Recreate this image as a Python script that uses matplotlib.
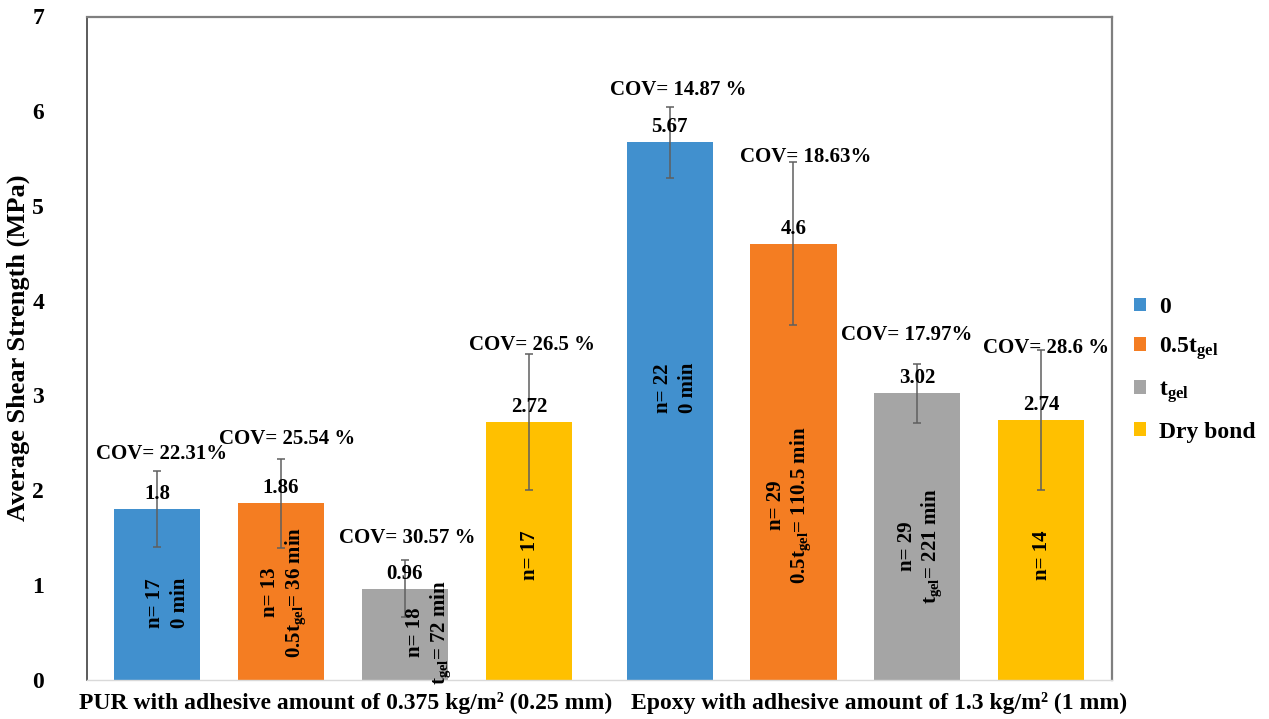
import matplotlib
matplotlib.use("Agg")
import matplotlib.pyplot as plt
from matplotlib.patches import Patch
import matplotlib.transforms as mtransforms
import numpy as np

plt.rcParams['font.family'] = ['Liberation Serif', 'DejaVu Serif']
plt.rcParams['font.weight'] = 'bold'
plt.rcParams['mathtext.fontset'] = 'custom'
plt.rcParams['mathtext.rm'] = 'Liberation Serif:bold'
plt.rcParams['mathtext.it'] = 'Liberation Serif:bold'
plt.rcParams['mathtext.bf'] = 'Liberation Serif:bold'

# ---------------- data ----------------
categories = ['PUR with adhesive amount of 0.375 kg/m² (0.25 mm)',
              'Epoxy with adhesive amount of 1.3 kg/m² (1 mm)']
series = ['0', '0.5t$_{gel}$', 't$_{gel}$', 'Dry bond']
colors = ['#4190CE', '#F47D22', '#A5A5A5', '#FFC000']

mean_0 = [1.80, 5.67]
mean_half_tgel = [1.86, 4.60]
mean_tgel = [0.96, 3.02]
mean_dry = [2.72, 2.74]

err_0 = [0.40, 0.37]
err_half_tgel = [0.47, 0.86]
err_tgel = [0.30, 0.31]
err_dry = [0.72, 0.74]

cov_0 = ['COV= 22.31%', 'COV= 14.87 %']
cov_half_tgel = ['COV= 25.54 %', 'COV= 18.63%']
cov_tgel = ['COV= 30.57 %', 'COV= 17.97%']
cov_dry = ['COV= 26.5 %', 'COV= 28.6 %']

n_0 = [17, 22]
n_half_tgel = [13, 29]
n_tgel = [18, 29]
n_dry = [17, 14]

time_0 = ['0 min', '0 min']
time_half_tgel = ['0.5t$_{gel}$= 36 min', '0.5t$_{gel}$= 110.5 min']
time_tgel = ['t$_{gel}$= 72 min', 't$_{gel}$= 221 min']
time_dry = [None, None]

means = [mean_0, mean_half_tgel, mean_tgel, mean_dry]
errs = [err_0, err_half_tgel, err_tgel, err_dry]
covs = [cov_0, cov_half_tgel, cov_tgel, cov_dry]
ns = [n_0, n_half_tgel, n_tgel, n_dry]
times = [time_0, time_half_tgel, time_tgel, time_dry]

# ---------------- layout (annotation placement) ----------------
cov_y = [[2.38, 6.22], [2.535, 5.52], [1.49, 3.636], [3.533, 3.50]]
cov_dx = [[4.5, 9], [6, 12], [2.5, -11], [3, 5]]          # pixels
inner_y = [[0.81, 3.08], [0.92, 1.84], [0.50, 1.41], [1.31, 1.31]]
inner_dx = [[10, 6], [2, -5], [23, 2], [1, 1]]            # pixels
line_gap = 25                                              # pixels between rotated lines
cat_label_dx = [3, 24]                                     # pixels

W, H = 1269, 719
fig = plt.figure(figsize=(W / 100, H / 100), dpi=100)
left, right, top, bottom = 86.7, 1111.7, 16.5, 679.5
ax = fig.add_axes([left / W, 1 - bottom / H, (right - left) / W, (bottom - top) / H])

spacing = 0.2418
width = 0.168
cat_x = np.array([0.5, 1.5])

def px_shift(dx):
    return mtransforms.ScaledTranslation(dx / 100, 0, fig.dpi_scale_trans)

for i in range(4):
    x = cat_x + (i - 1.5) * spacing
    ax.bar(x, means[i], width, color=colors[i], zorder=2,
           yerr=errs[i],
           error_kw=dict(ecolor='#5f5f5f', elinewidth=1.1, capsize=3.2,
                         capthick=1.1, zorder=3))
    for j in range(2):
        v = means[i][j]
        ax.annotate(f'{v:g}', (x[j], v), xytext=(0, 10.8), textcoords='offset points',
                    ha='center', va='center', fontsize=15, fontweight='bold', zorder=4)
        ax.text(x[j], cov_y[i][j], covs[i][j], transform=ax.transData + px_shift(cov_dx[i][j]),
                ha='center', va='center', fontsize=15, fontweight='bold', zorder=4)
        lines = [f'n= {ns[i][j]}']
        if times[i][j]:
            lines.append(times[i][j])
        k0 = (len(lines) - 1) / 2
        for k, line in enumerate(lines):
            dx = inner_dx[i][j] + (k - k0) * line_gap
            ax.text(x[j], inner_y[i][j], line, transform=ax.transData + px_shift(dx),
                    rotation=90, ha='center', va='center',
                    fontsize=15, fontweight='bold', zorder=4)

ax.set_xlim(0, 2)
ax.set_ylim(0, 7)
ax.set_yticks(range(0, 8))
ax.set_xticks(cat_x)
ax.set_xticklabels(categories, fontsize=17, fontweight='bold')
ax.tick_params(axis='y', length=0, pad=30.7, labelsize=17)
ax.tick_params(axis='x', length=0, pad=9)
for lbl in ax.get_yticklabels():
    lbl.set_fontweight('bold')
for lbl, dx in zip(ax.get_xticklabels(), cat_label_dx):
    lbl.set_transform(lbl.get_transform() + px_shift(dx))

ax.set_ylabel('Average Shear Strength (MPa)', fontsize=19, fontweight='bold')
ax.yaxis.set_label_coords((30.5 - left) / (right - left), 0.5)

ax.spines['left'].set_color('#404040')
ax.spines['left'].set_linewidth(1.2)
for s in ['top', 'right']:
    ax.spines[s].set_color('#7f7f7f')
    ax.spines[s].set_linewidth(1.6)
ax.spines['bottom'].set_color('#d9d9d9')
ax.spines['bottom'].set_linewidth(1.0)

handles = [Patch(facecolor=c) for c in colors]
ax.legend(handles, series, loc='upper left', bbox_to_anchor=(1134 / W, 1 - 297 / H),
          bbox_transform=fig.transFigure, frameon=False, fontsize=17,
          handlelength=0.5, handleheight=0.5, handletextpad=0.55, labelspacing=0.72,
          borderpad=0, borderaxespad=0)

fig.savefig('out.png', dpi=100)
